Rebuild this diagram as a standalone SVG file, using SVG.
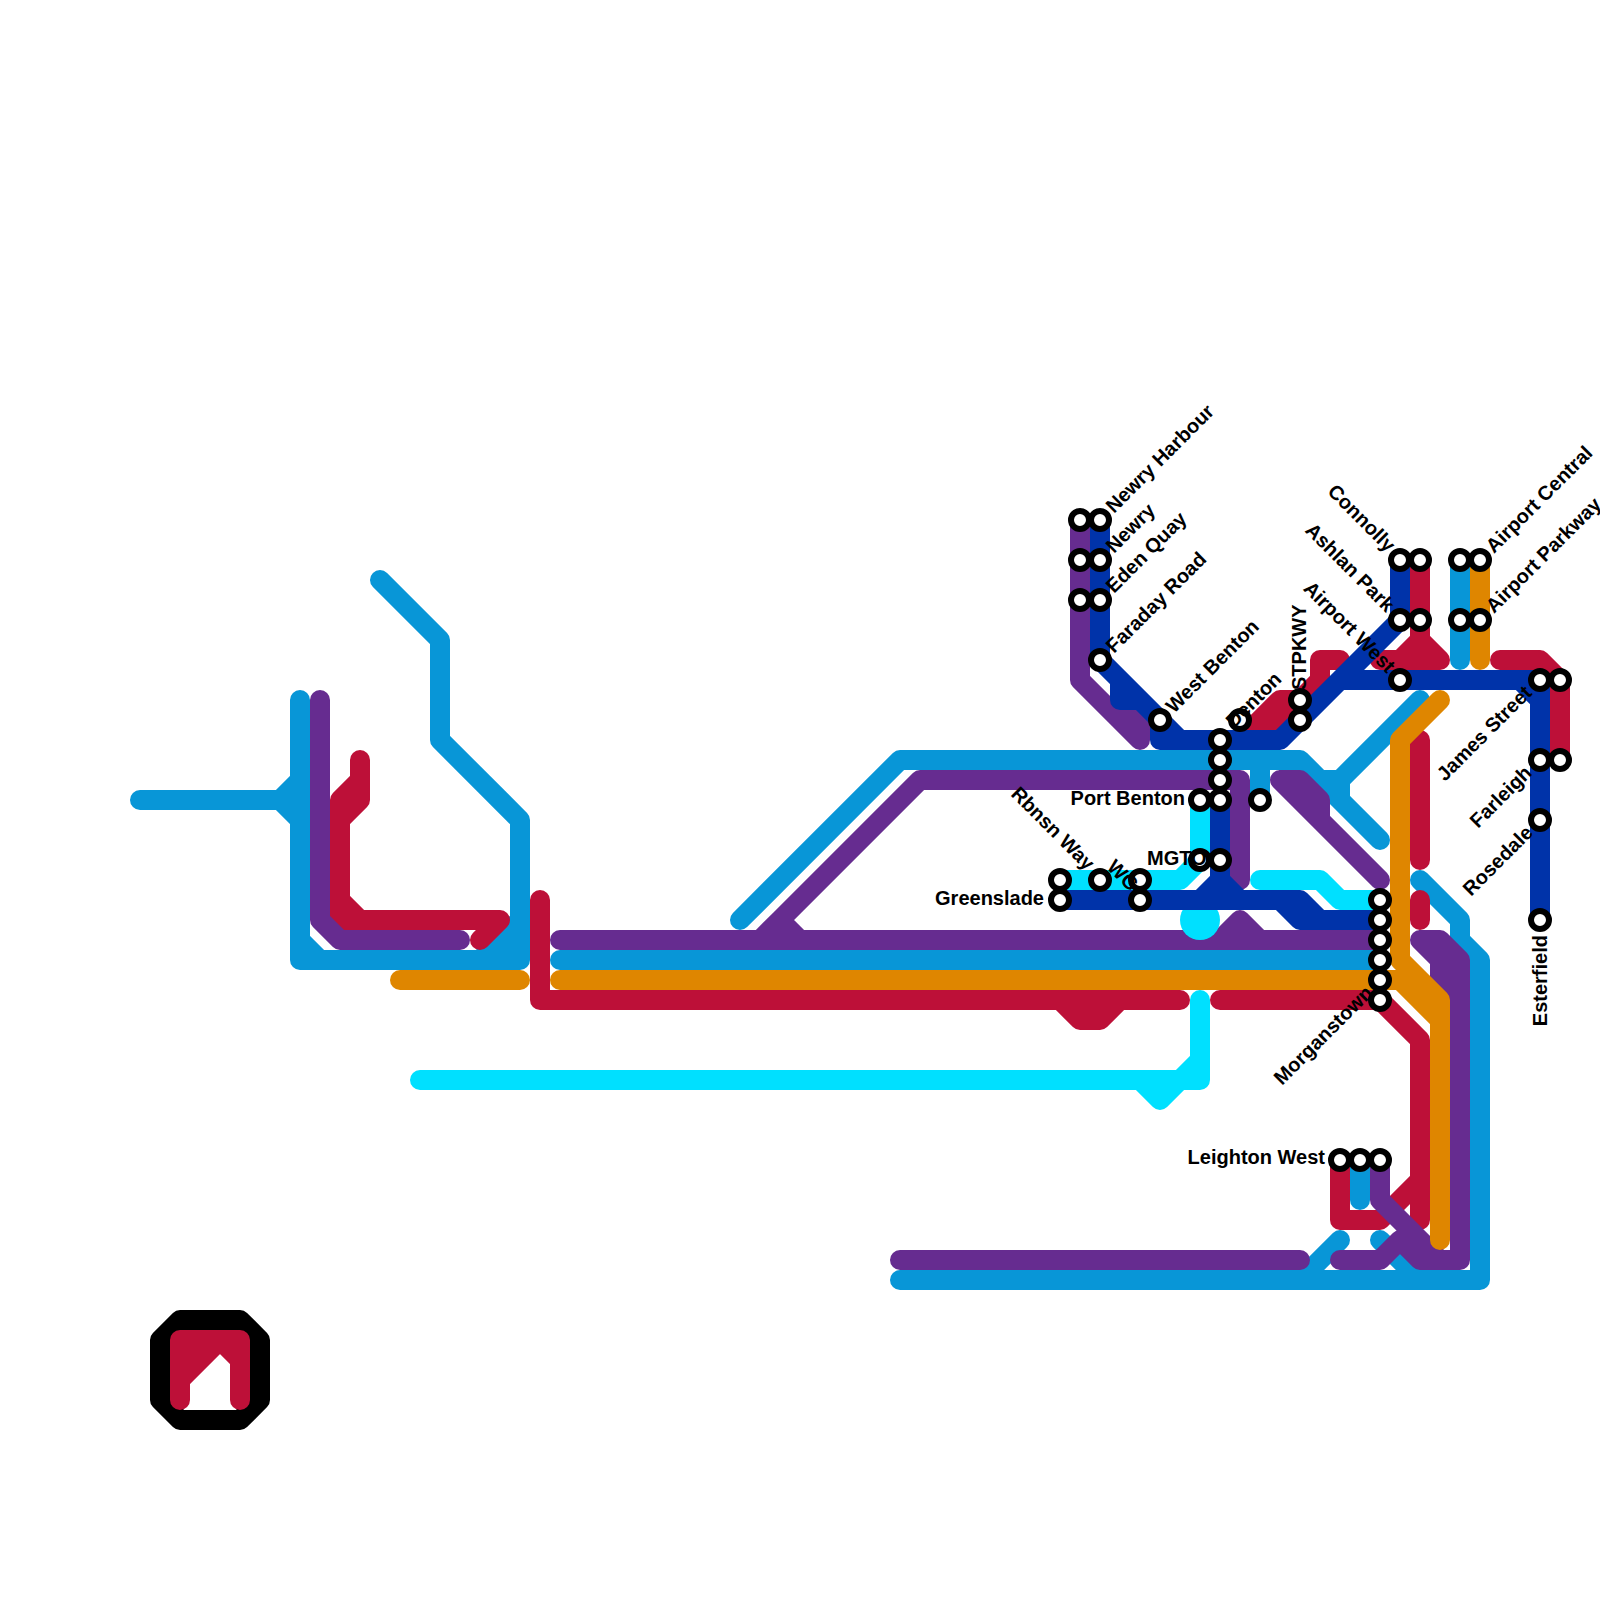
<svg xmlns="http://www.w3.org/2000/svg" width="1600" height="1600" viewBox="0 0 1600 1600">
<style>
.l{fill:none;stroke-width:20;stroke-linecap:round;stroke-linejoin:round}
.b{stroke:#0896d7}.p{stroke:#662c90}.r{stroke:#bd1038}.o{stroke:#df8600}.c{stroke:#00e0ff}.d{stroke:#0033a9}.k{stroke:#000}
.s{fill:#fff;stroke:#000;stroke-width:6}
text{font-family:"Liberation Sans",Arial,sans-serif;font-weight:700;font-size:20px;fill:#000}
</style>
<g id="logo">
<path class="l k" d="M180 1320H240L260 1340V1400L240 1420H180L160 1400V1340Z"/>
<path class="l r" d="M180 1400V1340H240V1400M180 1380L220 1340L240 1360M180 1360L200 1340"/>
</g>
<g id="connectors">
<path class="l b" d="M140 800H280L300 780M280 800L300 820M300 700V960H520V820L440 740V640L380 580M300 940L320 960M480 960L520 920M500 960L520 940"/>
<path class="l r" d="M360 760V800L340 820M360 780L340 800V920H360M340 900L360 920H500L480 940"/>
<path class="l p" d="M320 700V920L340 940H460"/>
<path class="l o" d="M400 980H520"/>
<path class="l b" d="M560 960H1380"/>
<path class="l b" d="M740 920L900 760H1300L1320 780H1340L1420 700M1260 760V800M1340 780V800L1380 840M1320 780L1340 800"/>
<path class="l b" d="M1420 880L1460 920V940L1480 960V1280H900M1300 1280L1340 1240M1380 1240L1420 1280M1460 560V660"/>
<path class="l b" d="M1360 1160V1200"/>
<path class="l r" d="M540 900V1000H1180M1060 1000L1080 1020H1100L1120 1000M1220 1000H1380L1420 1040V1220M1420 1180L1380 1220H1340V1160"/>
<path class="l r" d="M1240 740L1280 700H1300L1320 680V660H1340M1260 740L1300 700"/>
<path class="l r" d="M1380 660H1440L1420 640L1400 660M1420 560V640M1500 660H1540L1560 680V760M1420 740V860M1420 900V920"/>
<path class="l p" d="M560 940H1380M1220 940L1240 920L1260 940M760 940L780 920L800 940M780 920L920 780H1240V880"/>
<path class="l p" d="M1080 520V680L1140 740M1120 700L1140 720V740M1280 780H1300L1320 800V820M1280 780L1380 880"/>
<path class="l p" d="M900 1260H1300M1420 940H1440L1460 960V1260H1420L1400 1240M1420 940L1440 960V1000M1380 1160V1200L1440 1260M1340 1260H1380L1400 1240"/>
<path class="l o" d="M560 980H1380M1440 700L1400 740V960L1440 1000V1240M1380 980H1400L1440 1020M1480 560V660"/>
<path class="l c" d="M420 1080H1200V1000M1200 1060L1160 1100L1140 1080M1060 880H1180L1200 860V800M1260 880H1320L1340 900H1380"/>
<circle cx="1200" cy="920" r="20" fill="#00e0ff"/>
<path class="l d" d="M1100 520V660L1180 740H1280L1400 620V560M1120 680V700H1140L1180 740M1160 720V740H1180M1320 700L1340 680H1540V920M1520 680L1540 700"/>
<path class="l d" d="M1060 900H1300L1320 920H1380M1280 900L1300 920H1320M1220 800V880L1200 900M1220 880L1240 900"/>
</g>
<g id="stations">
<circle class="s" cx="1080" cy="520" r="9"/><circle class="s" cx="1100" cy="520" r="9"/>
<circle class="s" cx="1080" cy="560" r="9"/><circle class="s" cx="1100" cy="560" r="9"/>
<circle class="s" cx="1080" cy="600" r="9"/><circle class="s" cx="1100" cy="600" r="9"/>
<circle class="s" cx="1100" cy="660" r="9"/><circle class="s" cx="1160" cy="720" r="9"/>
<circle class="s" cx="1220" cy="740" r="9"/><circle class="s" cx="1220" cy="760" r="9"/>
<circle class="s" cx="1220" cy="780" r="9"/><circle class="s" cx="1220" cy="800" r="9"/>
<circle class="s" cx="1200" cy="800" r="9"/><circle class="s" cx="1240" cy="720" r="9"/>
<circle class="s" cx="1300" cy="700" r="9"/><circle class="s" cx="1300" cy="720" r="9"/>
<circle class="s" cx="1260" cy="800" r="9"/><circle class="s" cx="1220" cy="860" r="9"/>
<circle class="s" cx="1200" cy="860" r="9"/><circle class="s" cx="1060" cy="880" r="9"/>
<circle class="s" cx="1060" cy="900" r="9"/><circle class="s" cx="1100" cy="880" r="9"/>
<circle class="s" cx="1140" cy="880" r="9"/><circle class="s" cx="1140" cy="900" r="9"/>
<circle class="s" cx="1380" cy="900" r="9"/><circle class="s" cx="1380" cy="920" r="9"/>
<circle class="s" cx="1380" cy="940" r="9"/><circle class="s" cx="1380" cy="960" r="9"/>
<circle class="s" cx="1380" cy="980" r="9"/><circle class="s" cx="1380" cy="1000" r="9"/>
<circle class="s" cx="1400" cy="560" r="9"/><circle class="s" cx="1420" cy="560" r="9"/>
<circle class="s" cx="1400" cy="620" r="9"/><circle class="s" cx="1420" cy="620" r="9"/>
<circle class="s" cx="1460" cy="560" r="9"/><circle class="s" cx="1480" cy="560" r="9"/>
<circle class="s" cx="1460" cy="620" r="9"/><circle class="s" cx="1480" cy="620" r="9"/>
<circle class="s" cx="1400" cy="680" r="9"/><circle class="s" cx="1540" cy="680" r="9"/>
<circle class="s" cx="1560" cy="680" r="9"/><circle class="s" cx="1540" cy="760" r="9"/>
<circle class="s" cx="1560" cy="760" r="9"/><circle class="s" cx="1540" cy="820" r="9"/>
<circle class="s" cx="1540" cy="920" r="9"/><circle class="s" cx="1340" cy="1160" r="9"/>
<circle class="s" cx="1360" cy="1160" r="9"/><circle class="s" cx="1380" cy="1160" r="9"/>
</g>
<g id="labels">
<text transform="translate(1114 514) rotate(-45)">Newry Harbour</text>
<text transform="translate(1114 554) rotate(-45)">Newry</text>
<text transform="translate(1114 594) rotate(-45)">Eden Quay</text>
<text transform="translate(1114 654) rotate(-45)">Faraday Road</text>
<text transform="translate(1174 714) rotate(-45)">West Benton</text>
<text transform="translate(1234 729) rotate(-45)">Denton</text>
<text transform="translate(1306 690) rotate(-90)">STPKWY</text>
<text transform="translate(1387 553) rotate(45)" text-anchor="end">Connolly</text>
<text transform="translate(1386 613) rotate(45)" text-anchor="end">Ashlan Park</text>
<text transform="translate(1387 674) rotate(45)" text-anchor="end">Airport West</text>
<text transform="translate(1494 554) rotate(-45)">Airport Central</text>
<text transform="translate(1494 614) rotate(-45)">Airport Parkway</text>
<text transform="translate(1533 694) rotate(-45)" text-anchor="end">James Street</text>
<text transform="translate(1533 774) rotate(-45)" text-anchor="end">Farleigh</text>
<text transform="translate(1534 834) rotate(-45)" text-anchor="end">Rosedale</text>
<text transform="translate(1547 935) rotate(-90)" text-anchor="end">Esterfield</text>
<text transform="translate(1374 994) rotate(-45)" text-anchor="end">Morganstown</text>
<text x="1185" y="805" text-anchor="end">Port Benton</text>
<text x="1147" y="865">MGTO</text>
<text x="1044" y="905" text-anchor="end">Greenslade</text>
<text x="1325" y="1164" text-anchor="end">Leighton West</text>
<text transform="translate(1010 795) rotate(45)">Rbnsn Way</text>
<text transform="translate(1106 868) rotate(45)">WG</text>
</g>
</svg>
